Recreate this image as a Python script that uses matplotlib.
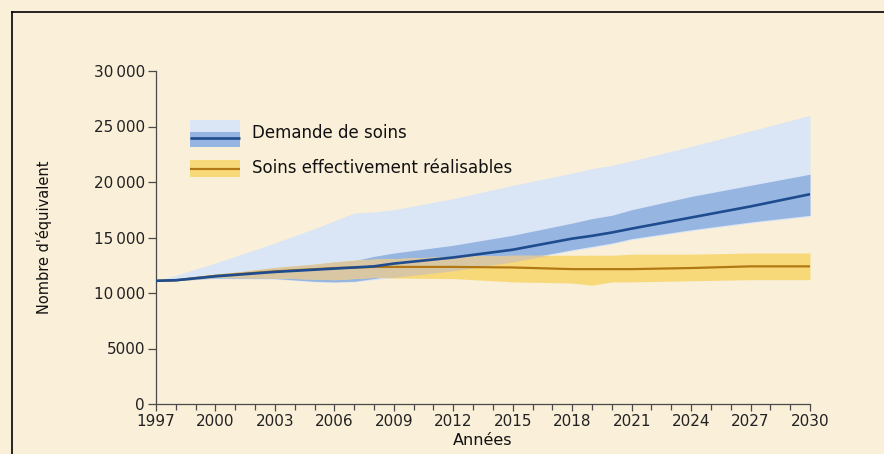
import matplotlib
matplotlib.use("Agg")
import matplotlib.pyplot as plt
from matplotlib.patches import Rectangle
from matplotlib.lines import Line2D
from matplotlib.ticker import FixedLocator, MultipleLocator, FuncFormatter
import numpy as np

# Projection years
years = [1997, 1998, 2000, 2003, 2005, 2006, 2007, 2008, 2009, 2012,
         2015, 2018, 2019, 2020, 2021, 2024, 2027, 2030]

# Care demand: median and uncertainty envelopes
demand = [11100, 11150, 11500, 11900, 12100, 12200, 12300, 12400, 12650, 13200,
          13900, 14900, 15150, 15450, 15800, 16800, 17800, 18900]
demand_inner_hi = [11100, 11200, 11700, 12200, 12500, 12650, 12900, 13300, 13600, 14300,
                   15200, 16300, 16700, 17000, 17500, 18700, 19700, 20700]
demand_inner_lo = [11100, 11100, 11350, 11300, 11050, 11000, 11050, 11300, 11600, 12200,
                   12900, 13900, 14200, 14500, 14900, 15700, 16400, 17000]
demand_outer_hi = [11100, 11600, 12700, 14500, 15800, 16500, 17200, 17300, 17500, 18500,
                   19700, 20800, 21200, 21500, 21900, 23200, 24600, 26000]
demand_outer_lo = [11100, 11100, 11300, 11250, 11000, 10950, 11000, 11200, 11400, 12000,
                   12800, 13800, 14100, 14400, 14800, 15600, 16300, 16900]

# Care actually feasible: median and envelope
feasible = [11100, 11150, 11550, 11950, 12150, 12250, 12300, 12350, 12350, 12350,
            12300, 12150, 12150, 12150, 12150, 12250, 12400, 12400]
feasible_hi = [11100, 11200, 11650, 12300, 12600, 12800, 12950, 13050, 13100, 13300,
               13400, 13400, 13400, 13400, 13500, 13500, 13600, 13600]
feasible_lo = [11100, 11100, 11400, 11350, 11250, 11200, 11300, 11400, 11350, 11300,
               11000, 10900, 10700, 11000, 11000, 11100, 11200, 11200]

year_ticks = list(range(1997, 2031, 3))
legend_labels = ["Demande de soins", "Soins effectivement réalisables"]

BG = "#FAEFD8"
LIGHT_BLUE = "#DAE5F5"
MID_BLUE = "#96B6E1"
DARK_BLUE = "#1E4C8E"
YELLOW = "#F8D97A"
TAN = "#D9C7A4"
BROWN = "#B27813"
AXIS = "#4A4A4A"

plt.rcParams["font.family"] = ["DejaVu Sans"]

fig = plt.figure(figsize=(8.84, 4.54), dpi=100, facecolor=BG)
ax = fig.add_axes([156 / 884, 1 - 404 / 454, 654 / 884, 333 / 454])
ax.set_facecolor("none")

x = np.array(years, dtype=float)
ol, oh = np.array(demand_outer_lo), np.array(demand_outer_hi)
il, ih = np.array(demand_inner_lo), np.array(demand_inner_hi)
fl, fh = np.array(feasible_lo), np.array(feasible_hi)

ax.fill_between(x, ol, oh, color=LIGHT_BLUE, lw=0, zorder=1)
ax.fill_between(x, il, ih, color=MID_BLUE, lw=0, zorder=2)
ax.fill_between(x, fl, fh, color=YELLOW, lw=0, zorder=3)
# where the feasible envelope overlaps the demand envelope
blo = np.minimum(ol, il)
bhi = np.maximum(oh, ih)
ov_lo = np.maximum(fl, blo)
ov_hi = np.minimum(fh, bhi)
ax.fill_between(x, ov_lo, ov_hi, where=ov_hi > ov_lo, interpolate=True,
                color=TAN, lw=0, zorder=4)

ax.plot(x, feasible, color=BROWN, lw=1.6, zorder=5, solid_capstyle="butt")
ax.plot(x, demand, color=DARK_BLUE, lw=1.9, zorder=6, solid_capstyle="butt")

ax.set_xlim(1997, 2030)
ax.set_ylim(0, 30000)
for s in ("top", "right"):
    ax.spines[s].set_visible(False)
for s in ("left", "bottom"):
    ax.spines[s].set_color(AXIS)
    ax.spines[s].set_linewidth(0.9)

ax.xaxis.set_major_locator(FixedLocator(year_ticks))
ax.xaxis.set_minor_locator(MultipleLocator(1))
ax.yaxis.set_major_locator(MultipleLocator(5000))
ax.yaxis.set_major_formatter(FuncFormatter(
    lambda v, p: f"{int(v):,}".replace(",", "\u2009") if v >= 10000 else f"{int(v)}"))
ax.tick_params(axis="both", which="both", direction="out", color=AXIS,
               width=0.9, labelcolor="#222222", labelsize=11)
ax.tick_params(axis="x", which="major", length=5, pad=2)
ax.tick_params(axis="x", which="minor", length=4)
ax.tick_params(axis="y", which="major", length=6, pad=2)

ax.set_xlabel("Années", fontsize=11.5, color="#111111", labelpad=3)
ax.set_ylabel("Nombre d'équivalent", fontsize=10.5, color="#111111", labelpad=30)

# Legend drawn by hand in axes coordinates
def fx(px):
    return (px - 156) / 654

def fy(py):
    return (404 - py) / 333

tr = ax.transAxes
kw = dict(transform=tr, lw=0, clip_on=False, zorder=7)
ax.add_patch(Rectangle((fx(190), fy(132)), fx(240) - fx(190), fy(120) - fy(132),
                       color=LIGHT_BLUE, **kw))
ax.add_patch(Rectangle((fx(190), fy(146.5)), fx(240) - fx(190), fy(132) - fy(146.5),
                       color=MID_BLUE, **kw))
ax.add_line(Line2D([fx(190), fx(240)], [fy(137.5), fy(137.5)], transform=tr,
                   color=DARK_BLUE, lw=1.9, zorder=8, solid_capstyle="butt"))
ax.add_patch(Rectangle((fx(190), fy(176.5)), fx(240) - fx(190), fy(160) - fy(176.5),
                       color=YELLOW, **kw))
ax.add_line(Line2D([fx(190), fx(240)], [fy(169), fy(169)], transform=tr,
                   color=BROWN, lw=1.6, zorder=8, solid_capstyle="butt"))
ax.text(fx(252), fy(133), legend_labels[0], transform=tr, fontsize=12,
        va="center", ha="left", color="#111111")
ax.text(fx(252), fy(168), legend_labels[1], transform=tr, fontsize=12,
        va="center", ha="left", color="#111111")

# Outer frame
fx0, fy0 = 12 / 884, 1 - 12 / 454
fig.add_artist(Line2D([fx0, 1.0], [fy0, fy0], transform=fig.transFigure,
                      color="black", lw=1.2))
fig.add_artist(Line2D([fx0, fx0], [0.0, fy0], transform=fig.transFigure,
                      color="black", lw=1.2))

fig.savefig("out.png", dpi=100, facecolor=BG)
